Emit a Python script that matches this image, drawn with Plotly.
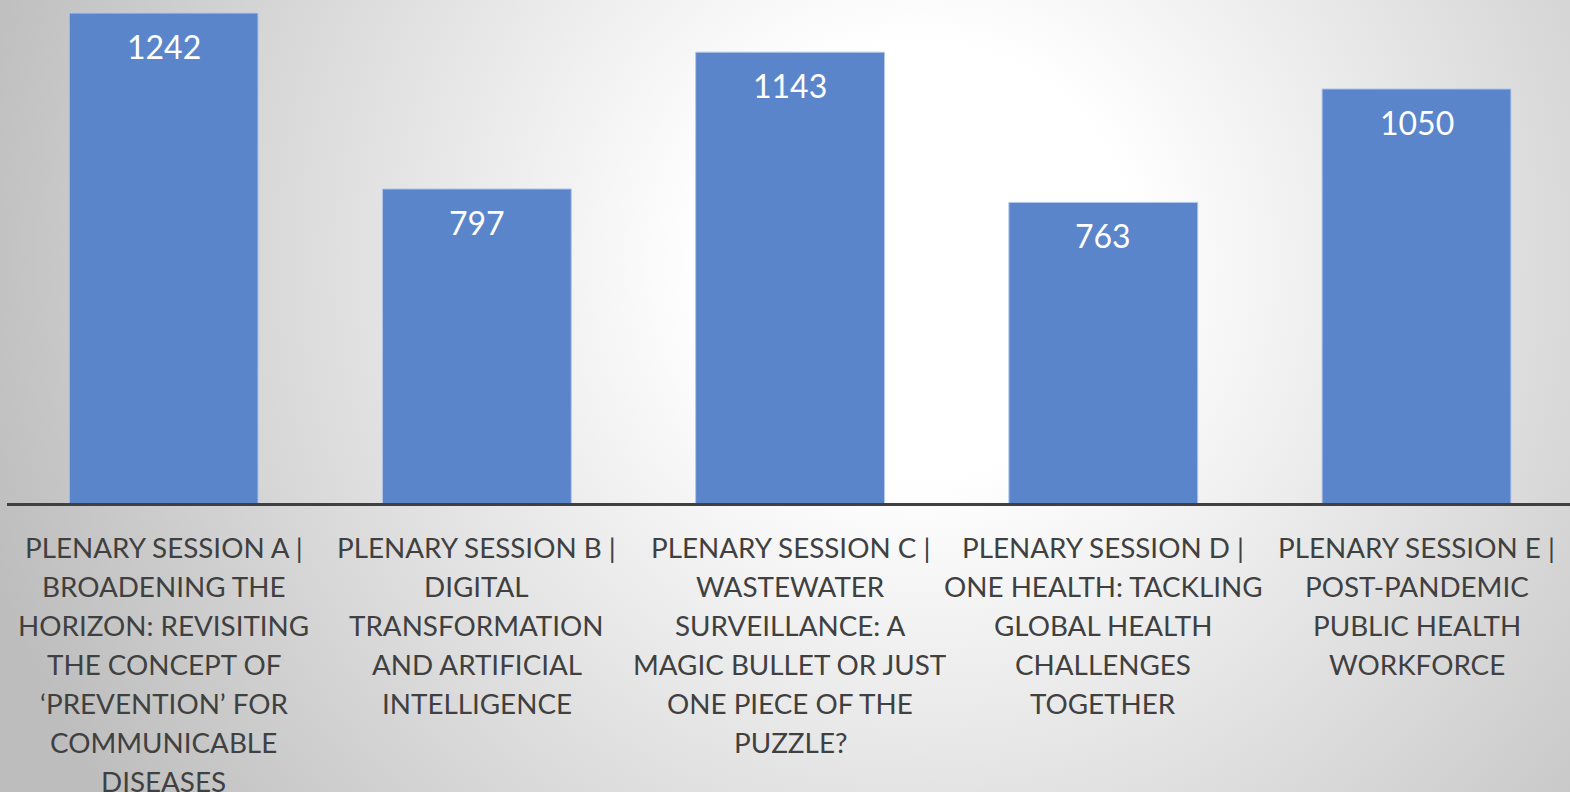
import plotly.graph_objects as go
import urllib.parse

# ---- data ----
categories = [
    "Plenary Session A", "Plenary Session B", "Plenary Session C",
    "Plenary Session D", "Plenary Session E",
]
values = [1242, 797, 1143, 763, 1050]
label_lines = [
    ["PLENARY SESSION A |", "BROADENING THE", "HORIZON: REVISITING", "THE CONCEPT OF",
     "\u2018PREVENTION\u2019 FOR", "COMMUNICABLE", "DISEASES"],
    ["PLENARY SESSION B |", "DIGITAL", "TRANSFORMATION", "AND ARTIFICIAL", "INTELLIGENCE"],
    ["PLENARY SESSION C |", "WASTEWATER", "SURVEILLANCE: A", "MAGIC BULLET OR JUST",
     "ONE PIECE OF THE", "PUZZLE?"],
    ["PLENARY SESSION D |", "ONE HEALTH: TACKLING", "GLOBAL HEALTH", "CHALLENGES", "TOGETHER"],
    ["PLENARY SESSION E |", "POST-PANDEMIC", "PUBLIC HEALTH", "WORKFORCE"],
]

W, H = 1570, 792
PLOT_BOTTOM = 504  # pixel of baseline
LEFT = 7
FONT = "Lato"

# radial gradient background as svg
svg = f'''<svg xmlns="http://www.w3.org/2000/svg" width="{W}" height="{H}" viewBox="0 0 {W} {H}" preserveAspectRatio="none">
<defs><radialGradient id="g" cx="920" cy="260" r="980" gradientUnits="userSpaceOnUse">
<stop offset="0" stop-color="#ffffff"/><stop offset="0.22" stop-color="#ffffff"/>
<stop offset="1" stop-color="#bdbdbd"/></radialGradient></defs>
<rect width="{W}" height="{H}" fill="url(#g)"/></svg>'''
bg_src = "data:image/svg+xml;charset=utf-8," + urllib.parse.quote(svg)

x_idx = list(range(len(categories)))

fig = go.Figure()
fig.add_trace(go.Bar(
    x=x_idx, y=values,
    marker=dict(color="#5b85ca", line=dict(color="#b4c8ea", width=1)),
    hoverinfo="skip",
))

annotations = []
for i, v in enumerate(values):
    annotations.append(dict(
        x=i, y=v, xref="x", yref="y", text=str(v), showarrow=False,
        yanchor="top", yshift=-12,
        font=dict(family=FONT, size=32, color="#ffffff"),
    ))

line_gap = 39
first_center = 547
for i, lines in enumerate(label_lines):
    for j, ln in enumerate(lines):
        ypix = first_center + j * line_gap
        annotations.append(dict(
            x=i, xref="x", yref="paper",
            y=(PLOT_BOTTOM - ypix) / PLOT_BOTTOM,
            text=ln, showarrow=False, yanchor="middle", xanchor="center",
            font=dict(family=FONT, size=27.8, color="#404040"),
        ))

PW = W - LEFT
fig.update_layout(
    width=W, height=H,
    margin=dict(l=LEFT, r=0, t=0, b=H - PLOT_BOTTOM, pad=0),
    paper_bgcolor="#e0e0e0",
    plot_bgcolor="rgba(0,0,0,0)",
    bargap=0.397,
    showlegend=False,
    images=[dict(source=bg_src, xref="paper", yref="paper", x=-LEFT / PW, y=1,
                 sizex=W / PW, sizey=H / PLOT_BOTTOM, xanchor="left", yanchor="top",
                 sizing="stretch", layer="below")],
    annotations=annotations,
    xaxis=dict(range=[-0.5, 4.49], showticklabels=False, showgrid=False, zeroline=False,
               showline=False, ticks="", fixedrange=True),
    yaxis=dict(range=[0, 1275], showticklabels=False, showgrid=False, zeroline=False,
               showline=False, ticks="", fixedrange=True),
    shapes=[dict(type="line", xref="paper", yref="paper", x0=0, x1=1,
                 y0=-0.6 / PLOT_BOTTOM, y1=-0.6 / PLOT_BOTTOM,
                 line=dict(color="#404040", width=3), layer="above")],
)

fig.write_html("out.html", config={"displayModeBar": False},
               post_script="document.body.style.margin='0';")
